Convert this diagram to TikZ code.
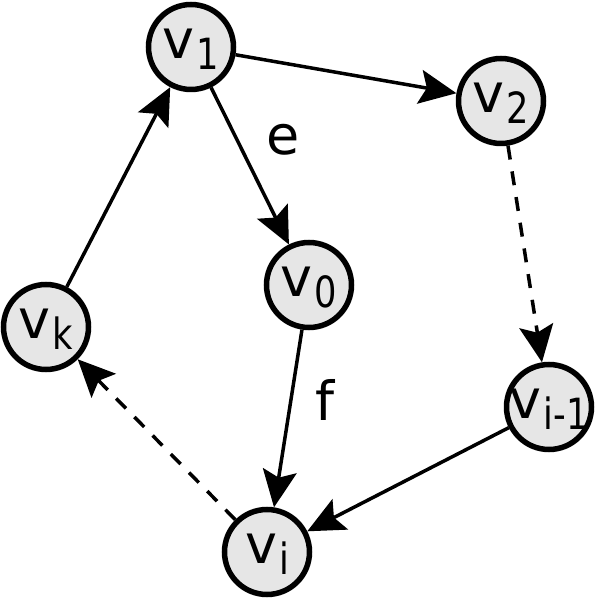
\documentclass[tikz,border=0pt]{standalone}
\usepackage{graphicx}
\usepackage{fontspec}
\setmainfont{DejaVu Sans}
\usetikzlibrary{arrows.meta}
\definecolor{vertexfill}{HTML}{E6E6E6}
\newcommand{\vlabel}[1]{\makebox[0pt]{v\kern2pt\raisebox{-11pt}{\scalebox{0.82}[1]{\fontsize{43}{43}\selectfont #1}}}}

\begin{document}
\begin{tikzpicture}[x=1pt,y=1pt,
  vertex/.style={circle,draw=black,fill=vertexfill,line width=5.5pt,
    minimum size=85pt,inner sep=0pt,text height=30pt,text depth=6pt,
    font=\fontsize{54}{58}\selectfont},
  arc/.style={line width=3.5pt,-{Stealth[length=37pt,width=34pt,inset=7pt]}},
  dasharc/.style={arc,dash pattern=on 14pt off 12pt},
  lab/.style={font=\fontsize{54}{58}\selectfont}]
  \useasboundingbox (0,0) rectangle (595,600);
  % vertices
  \node[vertex] (v1) at (191,553) {\vlabel{1}};
  \node[vertex] (v2) at (501,499) {\vlabel{2}};
  \node[vertex] (v0) at (309,315) {\vlabel{0}};
  \node[vertex] (vk) at (46,273) {\vlabel{k}};
  \node[vertex] (vim) at (549,193) {\vlabel{i-1}};
  \node[vertex] (vi) at (267,48) {\vlabel{i}};
  % edges
  \draw[arc] (v1) -- (v2);
  \draw[arc] (v1) -- (v0);
  \draw[dasharc] (v2) -- (vim);
  \draw[arc] (v0) -- (vi);
  \draw[arc] (vim) -- (vi);
  \draw[dasharc] (vi) -- (vk);
  \draw[arc] (vk) -- (v1);
  \node[lab] (e) at (283,460) {e};
  \node[lab] (f) at (325,200) {f};
\end{tikzpicture}
\end{document}
